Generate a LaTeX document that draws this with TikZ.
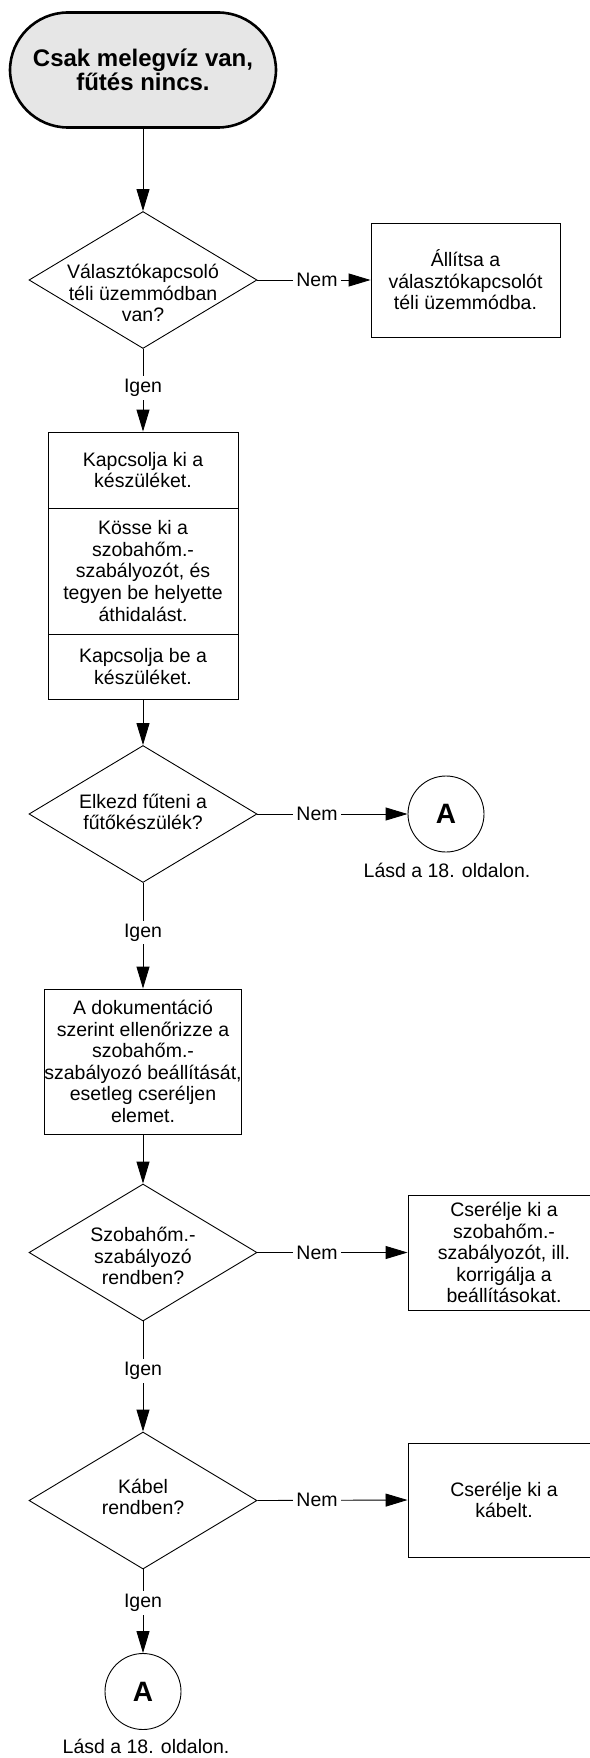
\documentclass[tikz,border=0pt]{standalone}
\usepackage{fontspec}
\setmainfont{Liberation Sans}
\usetikzlibrary{shapes.geometric,arrows.meta}
\definecolor{termfill}{HTML}{E6E6E6}
\begin{document}
\begin{tikzpicture}[x=1pt,y=-1pt,
  every node/.style={font=\fontsize{19.5}{21.6}\selectfont, align=center},
  term/.style={draw, line width=2.6pt, fill=termfill, rounded corners=58pt,
    minimum width=266pt, minimum height=115pt, inner sep=0pt,
    font=\bfseries\fontsize{24}{24.5}\selectfont},
  box/.style={draw, line width=0.9pt, minimum width=190pt, inner sep=0pt},
  dia/.style={draw, diamond, line width=0.9pt, minimum width=228pt, minimum height=137pt, inner sep=0pt},
  conn/.style={draw, circle, line width=0.9pt, minimum size=76pt, inner sep=0pt,
    font=\bfseries\fontsize{28}{28}\selectfont},
  lab/.style={fill=white, inner sep=3pt},
  arr/.style={line width=0.9pt, -{Triangle[length=22pt,width=13pt]}}
]
\useasboundingbox (0,0) rectangle (589,1758);

% start
\node[term] (t) at (143,70) {Csak melegvíz van,\\fűtés nincs.};

% decision 1
\node[dia] (d1) at (143,280) {};
\node (d1t) at (143,293) {Választókapcsoló\\téli üzemmódban\\van?};
\node[box, minimum width=189pt, minimum height=114pt] (b1) at (465.5,280)
  {Állítsa a\\választókapcsolót\\téli üzemmódba.};

% stacked steps
\node[box, minimum height=76pt] (s1) at (143,470) {Kapcsolja ki a\\készüléket.};
\node[box, minimum height=126pt] (s2) at (143,571) {Kösse ki a\\szobahőm.-\\szabályozót, és\\tegyen be helyette\\áthidalást.};
\node[box, minimum height=65pt] (s3) at (143,666.5) {Kapcsolja be a\\készüléket.};

% decision 2
\node[dia] (d2) at (143,814) {};
\node (d2t) at (143,812) {Elkezd fűteni a\\fűtőkészülék?};
\node[conn] (c1) at (446,814) {A};
\node (l1) at (447,870) {Lásd a 18. oldalon.};

% check step
\node[box, minimum height=145pt] (b2) at (143,1061.5) {A dokumentáció\\szerint ellenőrizze a\\szobahőm.-\\szabályozó beállítását,\\esetleg cseréljen\\elemet.};

% decision 3
\node[dia] (d3) at (143,1252.5) {};
\node (d3t) at (143,1256) {Szobahőm.-\\szabályozó\\rendben?};
\node[box, minimum width=192pt, minimum height=115pt] (b3) at (504,1252.5)
  {Cserélje ki a\\szobahőm.-\\szabályozót, ill.\\korrigálja a\\beállításokat.};

% decision 4
\node[dia] (d4) at (143,1500.5) {};
\node (d4t) at (143,1497) {Kábel\\rendben?};
\node[box, minimum width=192pt, minimum height=114pt] (b4) at (504,1500)
  {Cserélje ki a\\kábelt.};

% end connector
\node[conn] (c2) at (143,1691.5) {A};
\node (l2) at (146,1746) {Lásd a 18. oldalon.};

% connectors
\draw[arr] (t.south) -- (d1.north);
\draw[arr] (d1.east) -- node[lab, pos=0.526] {Nem} (b1.west);
\draw[arr] (d1.south) -- node[lab, pos=0.47] {Igen} (s1.north);
\draw[arr] (s3.south) -- (d2.north);
\draw[arr] (d2.east) -- node[lab, pos=0.397] {Nem} (c1.west);
\draw[arr] (d2.south) -- node[lab, pos=0.47] {Igen} (b2.north);
\draw[arr] (b2.south) -- (d3.north);
\draw[arr] (d3.east) -- node[lab, pos=0.397] {Nem} (b3.west);
\draw[arr] (d3.south) -- node[lab, pos=0.45] {Igen} (d4.north);
\draw[arr] (d4.east) -- node[lab, pos=0.397] {Nem} (b4.west);
\draw[arr] (d4.south) -- node[lab, pos=0.4] {Igen} (c2.north);
\end{tikzpicture}
\end{document}
